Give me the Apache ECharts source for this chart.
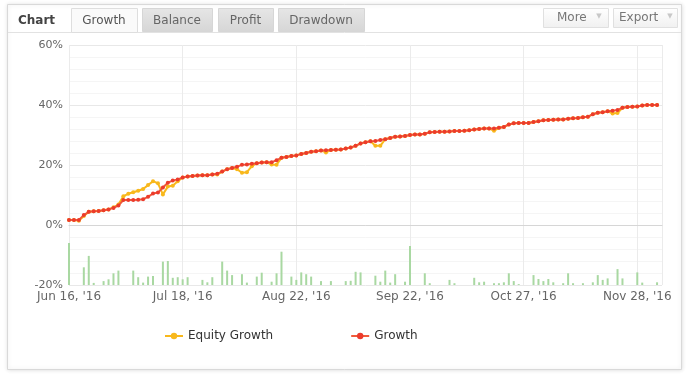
<!DOCTYPE html>
<html>
<head>
<meta charset="utf-8">
<script src="https://cdn.jsdelivr.net/npm/echarts@6/dist/echarts.min.js"></script>
<style>
html,body{margin:0;padding:0;background:#fff;}
#c{width:691px;height:382px;}
</style>
</head>
<body>
<div id="c"></div>
<script>
const tickLabels = ["Jun 16, '16", "Jul 18, '16", "Aug 22, '16", "Sep 22, '16", "Oct 27, '16", "Nov 28, '16"];
const tabs = ["Growth", "Balance", "Profit", "Drawdown"];
const yTicks = [-20, 0, 20, 40, 60];

const growth = [
 1.7,1.7,1.7,3.3,4.4,4.6,4.7,4.9,5.2,5.7,
 6.5,8.3,8.3,8.3,8.4,8.6,9.4,10.5,10.8,12.5,
 14.1,14.8,15.2,15.8,16.2,16.3,16.5,16.6,16.6,16.8,
 17.1,17.8,18.6,19.0,19.4,20.1,20.2,20.4,20.6,20.8,
 20.9,20.9,21.6,22.4,22.7,23.0,23.2,23.7,24.0,24.4,
 24.6,24.8,24.9,25.0,25.1,25.2,25.5,25.8,26.4,27.2,
 27.6,27.9,28.0,28.3,28.6,29.0,29.4,29.5,29.7,30.0,
 30.2,30.2,30.4,30.9,31.0,31.1,31.1,31.2,31.3,31.3,
 31.4,31.6,31.8,32.0,32.2,32.2,32.2,32.4,32.7,33.5,
 33.9,34.0,34.0,34.0,34.3,34.6,34.9,35.0,35.1,35.2,
 35.2,35.4,35.6,35.7,35.9,36.1,36.9,37.4,37.6,37.9,
 38.1,38.3,39.1,39.3,39.4,39.5,39.8,40.0,40.0,40.0
];

const equityGrowth = [
 1.7,1.7,1.4,3.0,4.4,4.6,4.7,4.9,5.2,5.9,
 6.8,9.6,10.4,10.9,11.4,12.0,13.3,14.6,13.9,10.2,
 12.8,13.1,14.6,15.8,16.2,16.3,16.5,16.6,16.6,16.8,
 16.8,17.8,18.6,19.0,18.6,17.4,17.6,19.6,20.6,20.8,
 20.9,20.2,20.1,22.4,22.7,23.0,23.2,23.7,24.0,24.4,
 24.6,24.8,24.2,25.0,25.1,25.2,25.5,25.8,26.4,27.2,
 27.6,27.9,26.4,26.4,28.6,29.0,29.4,29.5,29.7,30.0,
 30.2,30.2,30.4,30.9,31.0,31.1,31.1,31.2,31.3,31.3,
 31.4,31.6,31.8,32.0,32.2,32.2,31.4,32.4,32.7,33.5,
 33.9,34.0,34.0,34.0,34.3,34.6,34.9,35.0,35.1,35.2,
 35.2,35.4,35.6,35.7,35.9,36.1,36.9,37.4,37.6,37.9,
 37.2,37.3,39.1,39.3,39.4,39.5,39.8,40.0,40.0,40.0
];

const activity = [
 14,0,0,5.9,9.7,0.7,0,1.3,1.9,3.9,
 4.8,0,0,4.8,2.6,0.8,2.8,3.0,0,7.8,
 8.0,2.4,2.6,1.9,2.6,0,0,1.7,0.9,2.6,
 0,7.8,4.8,3.3,0,3.6,0.8,0,2.8,4.1,
 0,1.1,3.9,11.1,0,2.8,1.7,4.2,3.6,2.8,
 0,1.3,0,1.3,0,0,1.3,1.4,4.4,4.2,
 0,0,3.1,1.1,4.8,0.8,3.6,0,1.1,13,
 0,0,3.9,0.6,0,0,0,1.7,0.6,0,
 0,0,2.4,0.9,1.1,0,0.6,0.6,0.9,3.9,
 1.3,0.3,0,0,3.3,2.0,1.3,2.0,0.9,0,
 0.6,3.9,0.6,0,0.6,0,0.9,3.3,1.7,2.2,
 0,5.3,2.2,0,0,4.2,0.8,0,0,0.9
];

const FONT = 'DejaVu Sans';
const chart = echarts.init(document.getElementById('c'), null, {renderer: 'canvas'});

function tabEl(label, x, w, active) {
  return [
    {type: 'rect', shape: {x: x + 0.5, y: 8.5, width: w, height: active ? 24 : 23},
     style: active ? {fill: '#fafafa', stroke: '#dedede'} :
       {fill: new echarts.graphic.LinearGradient(0, 0, 0, 1, [{offset: 0, color: '#e6e6e6'}, {offset: 1, color: '#d6d6d6'}]), stroke: '#d6d6d6'}},
    {type: 'text', x: x + w / 2, y: 21, style: {text: label, fill: active ? '#555' : '#666', font: '12px "' + FONT + '"', align: 'center', verticalAlign: 'middle'}}
  ];
}
const tabPos = [[71, 66], [142, 70], [218, 55], [278, 86]];
let graphics = [
  {type: 'rect', z: -10, shape: {x: 7.5, y: 4.5, width: 674, height: 365}, style: {fill: '#fff', stroke: '#d9d9d9', shadowBlur: 4, shadowColor: 'rgba(0,0,0,0.12)'}},
  {type: 'line', shape: {x1: 8, y1: 32.5, x2: 681, y2: 32.5}, style: {stroke: '#e2e2e2'}},
  {type: 'text', x: 18, y: 21, style: {text: 'Chart', fill: '#444', font: 'bold 12px "' + FONT + '"', verticalAlign: 'middle'}}
];
tabs.forEach((t, k) => { graphics = graphics.concat(tabEl(t, tabPos[k][0], tabPos[k][1], k === 0)); });
[['More', 543, 65, 557, 599], ['Export', 613, 64, 619, 670]].forEach(b => {
  graphics.push({type: 'rect', shape: {x: b[1] + 0.5, y: 8.5, width: b[2], height: 19},
    style: {fill: new echarts.graphic.LinearGradient(0, 0, 0, 1, [{offset: 0, color: '#ffffff'}, {offset: 1, color: '#f0f0f0'}]), stroke: '#e0e0e0'}});
  graphics.push({type: 'text', x: b[3], y: 18, style: {text: b[0], fill: '#777', font: '12px "' + FONT + '"', verticalAlign: 'middle'}});
  graphics.push({type: 'text', x: b[4], y: 16, style: {text: '▼', fill: '#c8c8c8', font: '7px "' + FONT + '"', align: 'center', verticalAlign: 'middle'}});
});

chart.setOption({
  animation: false,
  backgroundColor: '#fff',
  textStyle: {fontFamily: FONT},
  graphic: graphics,
  grid: {left: 69, right: 29, top: 45, bottom: 97, containLabel: false},
  legend: {
    data: ['Equity Growth', 'Growth'],
    left: 159, top: 325,
    itemWidth: 18, itemHeight: 8, itemGap: 77,
    textStyle: {fontSize: 12, color: '#333', fontFamily: FONT}
  },
  xAxis: {
    type: 'value', min: 0, max: 120, interval: 23,
    axisLine: {show: true, lineStyle: {color: '#d6d6d6'}},
    axisTick: {show: false},
    axisLabel: {
      color: '#666', fontSize: 12, fontFamily: FONT, margin: 6, showMaxLabel: false,
      formatter: v => (v % 23 === 0 && tickLabels[v / 23]) ? tickLabels[v / 23] : ''
    },
    splitLine: {show: true, lineStyle: {color: '#ebebeb'}}
  },
  yAxis: [{
    type: 'value', min: yTicks[0], max: yTicks[yTicks.length - 1], interval: 20,
    axisLine: {show: false}, axisTick: {show: false},
    axisLabel: {color: '#666', fontSize: 11, fontFamily: FONT, margin: 6, formatter: '{value}%'},
    splitLine: {lineStyle: {color: '#e8e8e8'}},
    minorTick: {show: false, splitNumber: 5},
    minorSplitLine: {show: true, lineStyle: {color: '#f5f5f5'}}
  }, {
    type: 'value', min: 0, max: 80, show: false,
    splitLine: {show: false}
  }],
  series: [{
    name: 'Activity', type: 'bar', xAxisIndex: 0, yAxisIndex: 1,
    barWidth: 2, itemStyle: {color: '#a9d8a2'},
    data: activity.map((v, i) => [i, v]), z: 1
  }, {
    name: 'Equity Growth', type: 'line', yAxisIndex: 0,
    symbol: 'circle', symbolSize: 4, showSymbol: true,
    itemStyle: {color: '#f8b81c'}, lineStyle: {color: '#f8b81c', width: 2},
    data: equityGrowth.map((v, i) => [i, v]), z: 3
  }, {
    name: 'Growth', type: 'line', yAxisIndex: 0,
    symbol: 'circle', symbolSize: 4, showSymbol: true,
    itemStyle: {color: '#ec3b2c'}, lineStyle: {color: '#f05a3a', width: 2},
    data: growth.map((v, i) => [i, v]), z: 4
  }]
});
</script>
</body>
</html>
